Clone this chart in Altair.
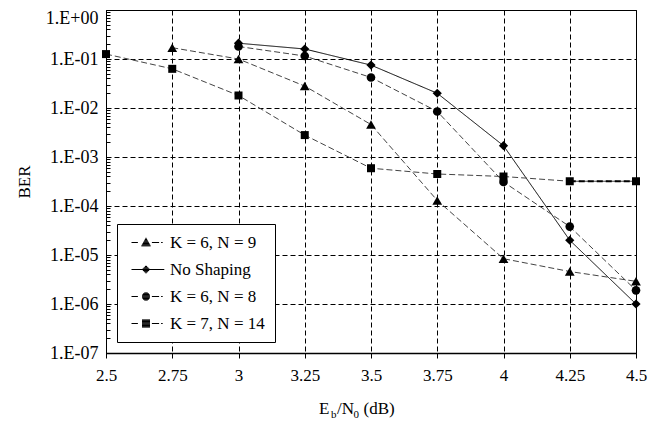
import altair as alt
import pandas as pd
import math

# ---- data ----
series_names = ["K = 6, N = 9", "No Shaping", "K = 6, N = 8", "K = 7, N = 14"]

x_k6n9 = [2.75, 3.0, 3.25, 3.5, 3.75, 4.0, 4.25, 4.5]
ber_k6n9 = [0.17, 0.10, 0.028, 0.0046, 1.3e-4, 8.4e-6, 4.6e-6, 2.9e-6]

x_noshape = [3.0, 3.25, 3.5, 3.75, 4.0, 4.25, 4.5]
ber_noshape = [0.21, 0.16, 0.075, 0.020, 0.0017, 2.0e-5, 1.0e-6]

x_k6n8 = [3.0, 3.25, 3.5, 3.75, 4.0, 4.25, 4.5]
ber_k6n8 = [0.18, 0.115, 0.042, 0.0085, 3.1e-4, 3.8e-5, 1.9e-6]

x_k7n14 = [2.5, 2.75, 3.0, 3.25, 3.5, 3.75, 4.0, 4.25, 4.5]
ber_k7n14 = [0.126, 0.063, 0.018, 0.0028, 5.9e-4, 4.5e-4, 4.0e-4, 3.2e-4, 3.2e-4]

x_ticks = [2.5, 2.75, 3, 3.25, 3.5, 3.75, 4, 4.25, 4.5]
y_ticks = [m * 10.0 ** e for e in range(-7, 0) for m in range(1, 10)] + [1.0]

FONT = "Liberation Serif"

rows = []
for name, xs, ys in zip(series_names,
                        [x_k6n9, x_noshape, x_k6n8, x_k7n14],
                        [ber_k6n9, ber_noshape, ber_k6n8, ber_k7n14]):
    for xv, yv in zip(xs, ys):
        rows.append({"series": name, "x": xv, "ber": yv})
df = pd.DataFrame(rows)

is_major = "abs(log(datum.value)/LN10 - round(log(datum.value)/LN10)) < 0.001"
label_expr = ("(" + is_major + ") ? '1.E' + (round(log(datum.value)/LN10) >= 0 ? '+0' : '-0') + "
              "abs(round(log(datum.value)/LN10)) : ''")

x_enc = alt.X("x:Q", scale=alt.Scale(domain=[2.5, 4.5], nice=False, zero=False),
              axis=alt.Axis(values=x_ticks, labelExpr="format(datum.value, '.3~g')",
                            grid=True, gridDash=[5, 3],
                            gridColor="black", gridWidth=1, gridOpacity=1,
                            tickSize=5, tickColor="black", domainColor="black", domainWidth=1.5,
                            labelFont=FONT, labelFontSize=17, labelColor="black", labelPadding=9,
                            labelFlush=False, title=None))
y_enc = alt.Y("ber:Q", scale=alt.Scale(type="log", domain=[1e-7, 1], nice=False),
              axis=alt.Axis(values=y_ticks, labelExpr=label_expr, labelOverlap=False,
                            labelOffset={"condition": {"test": "datum.value > 0.5", "value": 8}, "value": 0},
                            grid=True, gridDash=[5, 3], gridColor="black", gridWidth=1,
                            gridOpacity={"condition": {"test": is_major, "value": 1}, "value": 0},
                            tickSize=4, tickColor="black", offset=-4, domain=False,
                            labelFont=FONT, labelFontSize=18, labelColor="black", labelPadding=8,
                            title="BER", titleFont=FONT, titleFontSize=17, titleFontWeight="normal",
                            titleColor="black", titlePadding=12))

base = alt.Chart(df)

lines = base.mark_line(strokeWidth=1).encode(
    x=x_enc, y=y_enc,
    color=alt.Color("series:N", scale=alt.Scale(domain=series_names,
                    range=["#444444", "#000000", "#444444", "#444444"]), legend=None),
    strokeDash=alt.StrokeDash("series:N", scale=alt.Scale(domain=series_names,
                    range=[[6, 3], [1, 0], [6, 3], [6, 3]]), legend=None),
    order="x:Q",
)

thick = base.transform_filter(
    (alt.datum.series == "K = 7, N = 14") & (alt.datum.x >= 4.25)
).mark_line(strokeWidth=2, strokeDash=[6, 3], color="black").encode(x=x_enc, y=y_enc)

points = base.mark_point(filled=True, color="black", opacity=1).encode(
    x=x_enc, y=y_enc,
    shape=alt.Shape("series:N", scale=alt.Scale(domain=series_names,
                    range=["triangle-up", "diamond", "circle", "square"]), legend=None),
    size=alt.Size("series:N", scale=alt.Scale(domain=series_names,
                    range=[95, 64, 72, 78]), legend=None),
)

# legend symbols: a line with the marker drawn on it, stroke-only paths
# (1 unit = 4 px; markers filled by 1px hatching)
c = 2.625
dash_line = "M-1,0H0.6 M4.1,0H5.9 M6.4,0H6.8 "
solid_line = "M-1,0H7.2 "


def hatch(halfwidth, y0, y1):
    parts = []
    y = y0
    while y <= y1 + 1e-9:
        hw = halfwidth(y)
        if hw > 0.05:
            parts.append(f"M{c - hw:.3f},{y:.3f}H{c + hw:.3f}")
        y += 0.2
    return " ".join(parts)


tri = hatch(lambda y: 1.2 * (y + 1.25) / 2.15, -1.15, 0.85)
dia = hatch(lambda y: 1.0 - abs(y), -0.95, 0.95)
cir = hatch(lambda y: math.sqrt(max(0.0, 1 - y * y)), -0.9, 0.9)
sq = hatch(lambda y: 1.0, -0.9, 0.9)
legend_paths = [dash_line + tri, solid_line + dia, dash_line + cir, dash_line + sq]

legend_layer = base.mark_point(filled=False, color="black", strokeWidth=1,
                               opacity=0, size=64).encode(
    x=x_enc, y=y_enc,
    shape=alt.Shape("series:N", scale=alt.Scale(domain=series_names, range=legend_paths),
                    legend=alt.Legend(title=None, orient="none", legendX=11, legendY=214,
                                      fillColor="white", strokeColor="black", padding=10,
                                      symbolSize=64, symbolStrokeWidth=1,
                                      symbolStrokeColor="black", symbolOpacity=1,
                                      labelFont=FONT, labelFontSize=17, labelColor="black",
                                      labelOffset=26, rowPadding=9)),
)

one = pd.DataFrame({"a": [0]})
title_parts = [("E", 213, 404, 17), ("b", 225, 408, 11), ("/N", 231, 404, 17),
               ("0", 247.5, 408, 11), ("(dB)", 257.5, 404, 17)]
title_layers = [
    alt.Chart(one).mark_text(text=t, font=FONT, fontSize=fs, align="left",
                             baseline="alphabetic", color="black").encode(
        x=alt.value(px), y=alt.value(py))
    for t, px, py, fs in title_parts
]

chart = alt.layer(lines, thick, points, legend_layer, *title_layers).resolve_scale(
    shape="independent", size="independent"
).properties(
    width=530, height=343,
    padding={"left": 98, "top": 2, "right": 16, "bottom": 72},
    autosize=alt.AutoSizeParams(type="none"),
    background="white",
).configure(font=FONT).configure_view(stroke="black", strokeWidth=1)

chart.save("out.html", embed_options={"renderer": "svg", "actions": False})
